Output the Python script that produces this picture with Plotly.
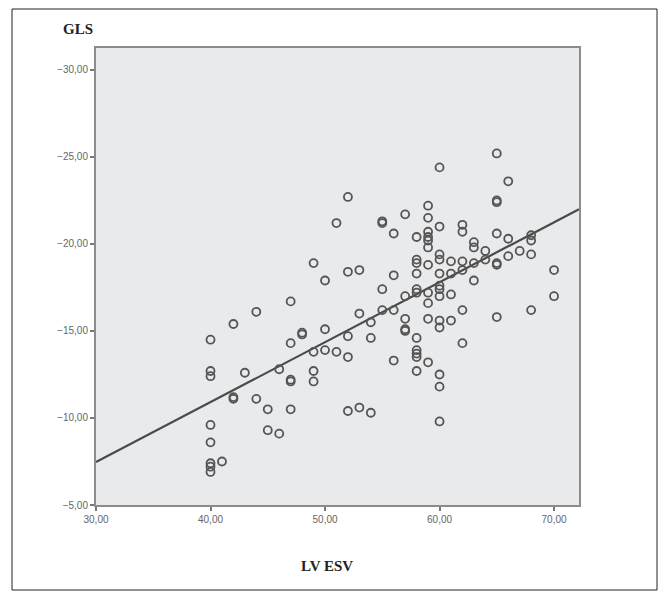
import plotly.graph_objects as go

# LV ESV (x) and GLS (y) values
lv_esv = (
    [40] * 8 + [41] + [42] * 3 + [43] + [44] * 2 + [45] * 2 + [46] * 2 + [47] * 5
    + [48] * 2 + [49] * 4 + [50] * 3 + [51] * 2 + [52] * 5 + [53] * 3 + [54] * 3
    + [55] * 4 + [56] * 4 + [57] * 5 + [58] * 11 + [59] * 11 + [60] * 13 + [61] * 4
    + [62] * 6 + [63] * 4 + [64] * 2 + [65] * 7 + [66] * 3 + [67] + [68] * 4 + [70] * 2
)
gls = [
    -14.5, -12.7, -12.4, -9.6, -8.6, -7.4, -7.2, -6.9,
    -7.5,
    -15.4, -11.1, -11.2,
    -12.6,
    -16.1, -11.1,
    -10.5, -9.3,
    -12.8, -9.1,
    -16.7, -14.3, -12.2, -12.1, -10.5,
    -14.8, -14.9,
    -18.9, -13.8, -12.7, -12.1,
    -17.9, -15.1, -13.9,
    -21.2, -13.8,
    -22.7, -18.4, -14.7, -13.5, -10.4,
    -18.5, -16.0, -10.6,
    -15.5, -14.6, -10.3,
    -21.2, -21.3, -17.4, -16.2,
    -20.6, -18.2, -16.2, -13.3,
    -21.7, -17.0, -15.7, -15.1, -15.0,
    -20.4, -19.1, -18.9, -18.3, -17.4, -17.2, -14.6, -13.9, -13.7, -13.5, -12.7,
    -22.2, -21.5, -20.7, -20.4, -20.2, -19.8, -18.8, -17.2, -16.6, -15.7, -13.2,
    -24.4, -21.0, -19.4, -19.1, -18.3, -17.6, -17.4, -17.0, -15.6, -15.2, -12.5, -11.8, -9.8,
    -19.0, -18.3, -17.1, -15.6,
    -21.1, -20.7, -19.0, -18.5, -16.2, -14.3,
    -20.1, -19.8, -18.9, -17.9,
    -19.6, -19.1,
    -25.2, -22.5, -22.4, -20.6, -18.9, -18.8, -15.8,
    -23.6, -20.3, -19.3,
    -19.6,
    -20.5, -20.2, -19.4, -16.2,
    -18.5, -17.0,
]

# fit line as drawn in the figure
fit_intercept = 2.87
fit_slope = -0.3445
x_min, x_max = 30, 72.18
y_bottom, y_top = -5, -31.26

x_ticks = [30, 40, 50, 60, 70]
y_ticks = [-30, -25, -20, -15, -10, -5]

fig = go.Figure()

fig.add_trace(
    go.Scatter(
        x=[x_min, x_max],
        y=[fit_intercept + fit_slope * x_min, fit_intercept + fit_slope * x_max],
        mode="lines",
        line=dict(color="#4a4a4a", width=2.2),
        hoverinfo="skip",
    )
)

fig.add_trace(
    go.Scatter(
        x=lv_esv,
        y=gls,
        mode="markers",
        marker=dict(symbol="circle-open", size=8, color="#555555", line=dict(width=1.8)),
    )
)

axis_common = dict(
    showgrid=False,
    zeroline=False,
    showline=True,
    mirror=True,
    linecolor="#8c8c8c",
    linewidth=2,
    ticks="outside",
    ticklen=4,
    tickwidth=1.5,
    tickcolor="#777777",
    tickformat=".2f",
    tickfont=dict(family="Liberation Sans", size=10, color="#666666"),
)

fig.update_xaxes(range=[x_min, x_max], tickvals=x_ticks, **axis_common)
fig.update_yaxes(range=[y_bottom, y_top], tickvals=y_ticks, **axis_common)

# page body has an 8px margin, so work in page pixels minus 8
OFF = 8
W, H = 671 - OFF, 592 - OFF
L, T = 96 - OFF, 48 - OFF
R, B = W - (579 - OFF), H - (505 - OFF)
pw, ph = W - L - R, H - T - B


def px(x):
    return (x - OFF - L) / pw


def py(y):
    return (H - B - (y - OFF)) / ph


fig.add_shape(
    type="rect", xref="paper", yref="paper",
    x0=px(12), x1=px(657), y0=py(590), y1=py(9),
    line=dict(color="#222222", width=1),
)

fig.add_annotation(
    text="<b>GLS</b>", xref="paper", yref="paper", x=px(61), y=py(29),
    xanchor="left", yanchor="middle", showarrow=False,
    font=dict(family="Liberation Serif", size=15, color="#222222"),
)
fig.add_annotation(
    text="<b>LV ESV</b>", xref="paper", yref="paper", x=px(327), y=py(566),
    xanchor="center", yanchor="middle", showarrow=False,
    font=dict(family="Liberation Serif", size=15, color="#222222"),
)

fig.update_layout(
    width=W,
    height=H,
    margin=dict(l=L, r=R, t=T, b=B),
    plot_bgcolor="#e9eaec",
    paper_bgcolor="white",
    showlegend=False,
    separators=", ",
)

fig.write_html("out.html")
